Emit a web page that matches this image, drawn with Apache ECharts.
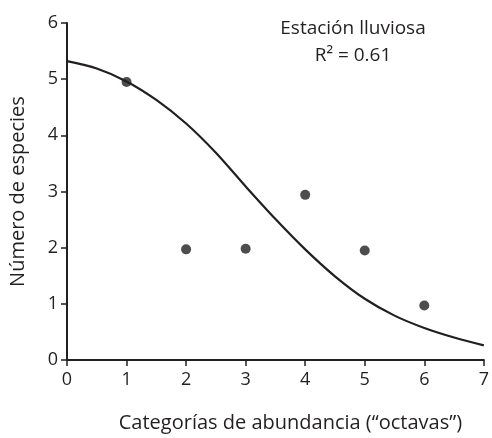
<!DOCTYPE html>
<html lang="es">
<head>
<meta charset="UTF-8">
<title>Estación lluviosa</title>
<script src="https://cdn.jsdelivr.net/npm/echarts@6/dist/echarts.min.js"></script>
<style>
  html, body { margin: 0; padding: 0; background: #fff; }
  #main { width: 492px; height: 438px; }
</style>
</head>
<body>
<div id="main"></div>
<script>
    // puntos observados (categoría, número de especies)
    var octavas = [1, 2, 3, 4, 5, 6];
    var especies = [4.95, 1.97, 1.98, 2.94, 1.95, 0.97];

    var curvaX = [0, 0.5, 1, 1.5, 2, 2.5, 3, 3.5, 4, 4.5, 5, 5.5, 6, 6.5, 7];
    var curvaY = [5.32, 5.19, 4.96, 4.63, 4.21, 3.69, 3.09, 2.51, 1.97, 1.49, 1.09, 0.79, 0.57, 0.40, 0.26];

    var titulo = 'Estación lluviosa';
    var r2 = 'R² = 0.61';

    var ink = '#231f20';
    var font = 'Open Sans';

    var chart = echarts.init(document.getElementById('main'));

    var puntos = [];
    for (let i = 0; i < octavas.length; i++) {
        puntos.push([octavas[i], especies[i]]);
    }
    var curva = [];
    for (let i = 0; i < curvaX.length; i++) {
        curva.push([curvaX[i], curvaY[i]]);
    }

    var option = {
        animation: false,
        backgroundColor: '#fff',
        textStyle: { fontFamily: font, color: ink },
        title: [{
            text: titulo,
            left: 348,
            top: 14,
            textAlign: 'center',
            textStyle: { fontFamily: font, fontSize: 19, fontWeight: 'normal', color: ink }
        }, {
            text: r2,
            left: 348,
            top: 41,
            textAlign: 'center',
            textStyle: { fontFamily: font, fontSize: 19, fontWeight: 'normal', color: ink }
        }],
        grid: { left: 63, right: 5, top: 23, bottom: 75, containLabel: false },
        xAxis: {
            type: 'value',
            min: 0, max: 7, interval: 1,
            name: 'Categorías de abundancia (“octavas”)',
            nameLocation: 'middle',
            nameGap: 53,
            nameTextStyle: { fontFamily: font, fontSize: 20, color: ink, padding: [0, 0, 0, 30] },
            axisLine: { lineStyle: { color: ink, width: 2 } },
            axisTick: { length: 6, lineStyle: { color: ink, width: 1.5 } },
            axisLabel: { fontFamily: font, fontSize: 18, color: ink, margin: 11 },
            splitLine: { show: false }
        },
        yAxis: {
            type: 'value',
            min: 0, max: 6, interval: 1,
            name: 'Número de especies',
            nameLocation: 'middle',
            nameGap: 39,
            nameTextStyle: { fontFamily: font, fontSize: 20, color: ink },
            axisLine: { show: true, lineStyle: { color: ink, width: 2 } },
            axisTick: { show: true, length: 6, lineStyle: { color: ink, width: 1.5 } },
            axisLabel: { fontFamily: font, fontSize: 18, color: ink, margin: 9 },
            splitLine: { show: false }
        },
        series: [{
            type: 'line',
            data: curva,
            smooth: 0.3,
            showSymbol: false,
            lineStyle: { color: ink, width: 2.2 },
            z: 2
        }, {
            type: 'scatter',
            data: puntos,
            symbolSize: 10,
            itemStyle: { color: ink },
            z: 3
        }]
    };

    chart.setOption(option);
</script>
</body>
</html>
